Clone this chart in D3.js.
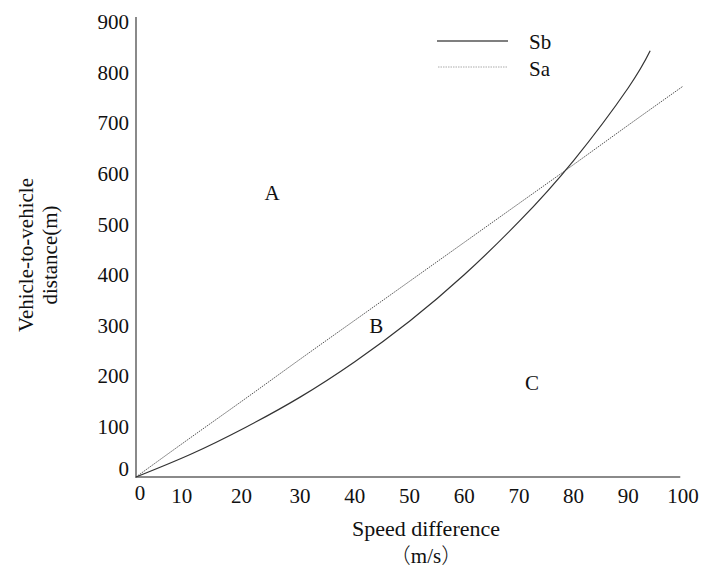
<!DOCTYPE html>
<html>
<head>
<meta charset="utf-8">
<script src="https://cdn.jsdelivr.net/npm/d3@7/dist/d3.min.js"></script>
<style>
  html, body { margin: 0; padding: 0; background: #fff; }
  svg text { font-family: "Liberation Serif", "Noto Sans CJK SC", serif; fill: #111; }
  .cjk { font-family: "Noto Sans CJK SC", "Noto Sans CJK JP", sans-serif; font-weight: 300; }
</style>
</head>
<body>
<svg id="chart" width="704" height="568"></svg>
<script>
// ---- data ----
const speedSb = [0, 10, 20, 30, 40, 50, 60, 70, 80, 90, 94];
const distSb  = [0, 45, 98, 158, 228, 308, 400, 505, 626, 770, 843];
const speedSa = [0, 10, 20, 30, 40, 50, 60, 70, 80, 90, 100];
const distSa  = [0, 78, 155, 233, 310, 387, 464, 541, 618, 696, 773];
const xTicks = [0, 10, 20, 30, 40, 50, 60, 70, 80, 90, 100];
const yTicks = [0, 100, 200, 300, 400, 500, 600, 700, 800, 900];
const seriesNames = ["Sb", "Sa"];
const regionLabels = ["A", "B", "C"];
const regionX = [24.9, 43.9, 72.4];
const regionY = [562, 299, 186];
const xTitle = "Speed difference";
const xUnitParts = ["（", "m/s", "）"];
const yTitle = ["Vehicle-to-vehicle", "distance(m)"];

// ---- layout ----
const svg = d3.select("#chart");
const x = d3.scaleLinear().domain([0, 100]).range([136, 683]);
const y = d3.scaleLinear().domain([0, 900]).range([477, 22]);

// axes lines
svg.append("line")
  .attr("x1", x(0)).attr("x2", x(0))
  .attr("y1", y(0) + 1).attr("y2", y(910))
  .attr("stroke", "#8a8a8a").attr("stroke-width", 2);
svg.append("line")
  .attr("x1", x(0) - 1).attr("x2", x(99.5))
  .attr("y1", y(0)).attr("y2", y(0))
  .attr("stroke", "#8a8a8a").attr("stroke-width", 2);

// y tick labels
svg.append("g").selectAll("text").data(yTicks).join("text")
  .attr("x", 129)
  .attr("y", d => y(d) + (d === 0 ? -8 : 0))
  .attr("dy", "0.35em")
  .attr("text-anchor", "end")
  .attr("font-size", 21)
  .text(d => d);

// x tick labels
svg.append("g").selectAll("text").data(xTicks).join("text")
  .attr("x", d => x(d) + (d === 0 ? 4 : (d === 10 ? -9 : (d === 20 ? -4 : 0))))
  .attr("y", d => d === 0 ? 493 : 496)
  .attr("dy", "0.35em")
  .attr("text-anchor", "middle")
  .attr("font-size", 21)
  .text(d => d);

// lines
const line = d3.line().curve(d3.curveNatural)
  .x(d => x(d[0])).y(d => y(d[1]));
const sbData = speedSb.map((s, i) => [s, distSb[i]]);
const saData = speedSa.map((s, i) => [s, distSa[i]]);

svg.append("path").datum(saData)
  .attr("d", line).attr("fill", "none")
  .attr("stroke", "#555").attr("stroke-width", 1)
  .attr("stroke-dasharray", "1.5,1");
svg.append("path").datum(sbData)
  .attr("d", line).attr("fill", "none")
  .attr("stroke", "#333").attr("stroke-width", 1.2);

// legend
const legend = svg.append("g");
legend.append("line").attr("x1", 437).attr("x2", 508).attr("y1", 41).attr("y2", 41)
  .attr("stroke", "#555").attr("stroke-width", 1.5);
legend.append("line").attr("x1", 438).attr("x2", 508).attr("y1", 67).attr("y2", 67)
  .attr("stroke", "#aaa").attr("stroke-width", 1).attr("stroke-dasharray", "1.5,1");
legend.selectAll("text").data(seriesNames).join("text")
  .attr("x", 529).attr("y", (d, i) => 42 + i * 27)
  .attr("dy", "0.35em").attr("font-size", 21)
  .text(d => d);

// region labels
svg.append("g").selectAll("text").data(regionLabels).join("text")
  .attr("x", (d, i) => x(regionX[i]))
  .attr("y", (d, i) => y(regionY[i]))
  .attr("dy", "0.35em").attr("text-anchor", "middle")
  .attr("font-size", 21)
  .text(d => d);

// axis titles
svg.append("text")
  .attr("x", 426).attr("y", 528)
  .attr("dy", "0.35em").attr("text-anchor", "middle")
  .attr("font-size", 22)
  .text(xTitle);

const unit = svg.append("text")
  .attr("x", 426).attr("y", 556)
  .attr("dy", "0.35em").attr("text-anchor", "middle")
  .attr("font-size", 21);
unit.selectAll("tspan").data(xUnitParts).join("tspan")
  .attr("class", (d, i) => i === 1 ? null : "cjk")
  .text(d => d);

svg.append("g").selectAll("text").data(yTitle).join("text")
  .attr("transform", (d, i) => `translate(${26 + i * 24},255) rotate(-90)`)
  .attr("dy", "0.35em").attr("text-anchor", "middle")
  .attr("font-size", 21)
  .text(d => d);
</script>
</body>
</html>
